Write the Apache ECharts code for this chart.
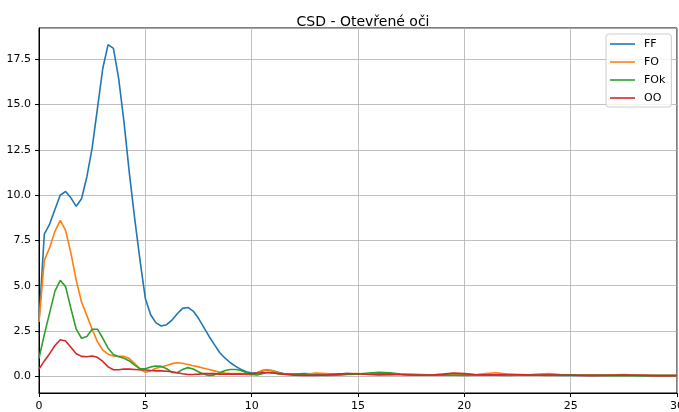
<!DOCTYPE html>
<html>
<head>
<meta charset="utf-8">
<script src="https://cdn.jsdelivr.net/npm/echarts@6/dist/echarts.min.js"></script>
<style>html,body{margin:0;padding:0;background:#fff}#c{width:679px;height:412px}</style>
</head>
<body>
<div id="c"></div>
<script>
const freq = [0,0.25,0.5,0.75,1,1.25,1.5,1.75,2,2.25,2.5,2.75,3,3.25,3.5,3.75,4,4.25,4.5,4.75,5,5.25,5.5,5.75,6,6.25,6.5,6.75,7,7.25,7.5,7.75,8,8.25,8.5,8.75,9,9.25,9.5,9.75,10,10.25,10.5,10.75,11,11.25,11.5,11.75,12,
  12.5,13,13.5,14,14.5,15,15.5,16,16.5,17,17.5,18,18.5,19,19.5,20,20.5,21,21.5,22,22.5,23,23.5,24,24.5,25,25.5,26,26.5,27,27.5,28,28.5,29,29.5,30];

const FF = [3.0,7.85,8.4,9.2,10.0,10.2,9.85,9.38,9.8,11.0,12.6,14.8,17.0,18.3,18.1,16.4,14.0,11.2,8.7,6.4,4.3,3.4,2.95,2.78,2.85,3.1,3.45,3.75,3.8,3.6,3.2,2.7,2.2,1.75,1.3,1.0,0.75,0.55,0.38,0.25,0.18,0.2,0.3,0.35,0.3,0.22,0.15,0.12,0.12,
  0.15,0.12,0.1,0.12,0.15,0.13,0.15,0.18,0.15,0.1,0.08,0.08,0.08,0.1,0.12,0.1,0.08,0.07,0.08,0.07,0.06,0.06,0.07,0.06,0.05,0.05,0.05,0.04,0.05,0.05,0.06,0.05,0.04,0.04,0.04,0.04];

const FO = [3.0,6.4,7.1,8.0,8.6,8.05,6.8,5.3,4.1,3.35,2.6,1.9,1.45,1.22,1.12,1.1,1.1,0.98,0.7,0.4,0.22,0.3,0.45,0.52,0.6,0.7,0.75,0.72,0.65,0.58,0.52,0.45,0.38,0.3,0.22,0.18,0.16,0.16,0.15,0.1,0.08,0.2,0.33,0.37,0.3,0.2,0.12,0.08,0.06,
  0.1,0.18,0.15,0.08,0.12,0.15,0.12,0.1,0.08,0.1,0.12,0.1,0.07,0.08,0.12,0.1,0.08,0.15,0.2,0.12,0.08,0.08,0.13,0.15,0.1,0.07,0.06,0.05,0.06,0.08,0.1,0.07,0.05,0.04,0.04,0.04];

const FOk = [1.0,2.3,3.5,4.7,5.3,4.95,3.75,2.6,2.1,2.2,2.6,2.6,2.1,1.55,1.2,1.08,1.0,0.85,0.62,0.42,0.42,0.52,0.57,0.55,0.42,0.22,0.2,0.38,0.48,0.4,0.25,0.12,0.05,0.08,0.2,0.32,0.38,0.38,0.32,0.2,0.1,0.08,0.15,0.22,0.2,0.15,0.12,0.12,0.12,
  0.1,0.06,0.05,0.06,0.1,0.12,0.18,0.22,0.2,0.12,0.08,0.06,0.06,0.08,0.06,0.05,0.06,0.07,0.06,0.05,0.06,0.08,0.06,0.05,0.08,0.09,0.06,0.05,0.05,0.04,0.05,0.04,0.04,0.04,0.04,0.04];

const OO = [0.4,0.85,1.25,1.7,2.02,1.95,1.6,1.25,1.1,1.08,1.12,1.05,0.82,0.52,0.36,0.36,0.4,0.4,0.38,0.36,0.35,0.32,0.3,0.3,0.28,0.25,0.2,0.14,0.1,0.1,0.12,0.15,0.16,0.15,0.12,0.12,0.13,0.12,0.12,0.13,0.15,0.18,0.2,0.2,0.18,0.15,0.12,0.1,0.06,
  0.05,0.05,0.08,0.12,0.15,0.14,0.1,0.08,0.1,0.1,0.08,0.07,0.07,0.12,0.18,0.15,0.1,0.08,0.08,0.1,0.1,0.08,0.07,0.08,0.07,0.06,0.05,0.05,0.05,0.06,0.07,0.06,0.05,0.04,0.04,0.04];

const seriesNames = ['FF','FO','FOk','OO'];
const seriesValues = [FF, FO, FOk, OO];
const colors = ['#1f77b4','#ff7f0e','#2ca02c','#d62728'];
const titleText = 'CSD - Otevřené oči';

const chart = echarts.init(document.getElementById('c'), null, {renderer:'canvas'});
const font = 'DejaVu Sans';
chart.setOption({
  animation: false,
  backgroundColor: '#fff',
  title: {
    text: titleText, left: 358, top: 10, textAlign: 'center',
    textStyle: {fontFamily: font, fontSize: 14, fontWeight: 'normal', color: '#000'}
  },
  grid: {left: 39, right: 2, top: 28, bottom: 19, outerBoundsMode: 'none', containLabel: false,
    show: true, borderColor: '#000', borderWidth: 1, backgroundColor: 'transparent'},
  legend: {
    orient: 'vertical', left: 606, top: 34,
    data: seriesNames,
    icon: 'rect',
    itemWidth: 25, itemHeight: 1.6, itemGap: 4,
    padding: [3, 6, 2, 4],
    borderColor: '#cccccc', borderWidth: 1, borderRadius: 3,
    backgroundColor: 'rgba(255,255,255,0.8)',
    textStyle: {fontFamily: font, fontSize: 11, lineHeight: 14, color: '#000', padding: [0,0,0,4]}
  },
  xAxis: {
    type: 'value', min: 0, max: 30, interval: 5,
    axisLine: {show: true, onZero: false, lineStyle: {color: '#000', width: 1}},
    axisTick: {show: true, inside: false, length: 4, lineStyle: {color: '#000'}},
    axisLabel: {fontFamily: font, fontSize: 11, color: '#000', margin: 8},
    splitLine: {show: true, lineStyle: {color: '#b0b0b0', width: 0.8}}
  },
  yAxis: {
    type: 'value', min: -0.92, max: 19.22, minInterval: 2.5, maxInterval: 2.5, splitNumber: 8,
    axisLine: {show: true, onZero: false, lineStyle: {color: '#000', width: 1}},
    axisTick: {show: true, inside: false, length: 4, lineStyle: {color: '#000'}},
    axisLabel: {fontFamily: font, fontSize: 11, color: '#000', margin: 8, showMinLabel: false, showMaxLabel: false,
      formatter: v => v.toFixed(1)},
    splitLine: {show: true, lineStyle: {color: '#b0b0b0', width: 0.8}}
  },
  series: seriesNames.map((n, k) => ({
    name: n, type: 'line', symbol: 'none', showSymbol: false,
    data: freq.map((x, i) => [x, seriesValues[k][i]]),
    lineStyle: {color: colors[k], width: 1.6},
    itemStyle: {color: colors[k]},
    z: 2 + k
  }))
});
</script>
</body>
</html>
